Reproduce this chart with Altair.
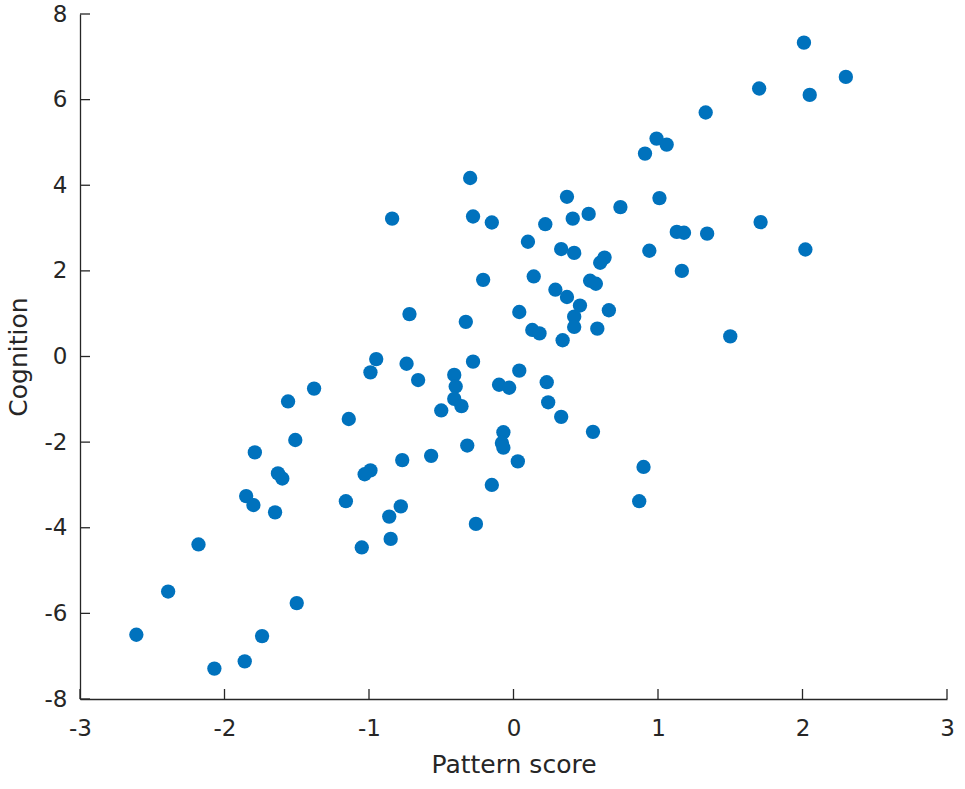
import altair as alt
import pandas as pd

pattern_score = [
    2.01, 2.30, 1.70, 2.05, 1.33, 0.99, 1.06, 0.91, -0.30, 0.37,
    1.01, 0.74, -0.84, -0.28, -0.15, 0.41, 0.52, 0.22, 1.71, 1.13,
    1.18, 1.34, 0.10, 0.33, 0.42, 0.63, 0.60, 0.94, 2.02, 1.165,
    -0.21, 0.14, 0.53, 0.57, 0.29, 0.37, 0.46, 0.66, 0.42, 0.42,
    0.58, 0.04, -0.72, -0.33, 0.13, 0.18, 0.34, 1.50, -0.95, -0.99,
    -0.74, -0.28, -0.66, -0.41, -0.40, 0.04, -0.10, -0.03, 0.23, -0.41,
    -0.36, -0.50, 0.24, 0.33, 0.55, -0.07, -0.08, -0.07, 0.03, -0.32,
    -0.57, -0.77, -0.99, -0.15, 0.90, 0.87, -0.78, -0.86, -0.26, -0.85,
    -1.38, -1.56, -1.14, -1.51, -1.79, -1.63, -1.60, -1.03, -1.85, -1.80,
    -1.65, -1.16, -2.18, -1.05, -2.39, -1.50, -2.61, -1.74, -1.86, -2.07,
]
cognition = [
    7.33, 6.53, 6.26, 6.11, 5.70, 5.09, 4.95, 4.74, 4.17, 3.73,
    3.70, 3.49, 3.22, 3.27, 3.13, 3.22, 3.33, 3.09, 3.14, 2.91,
    2.89, 2.87, 2.68, 2.51, 2.42, 2.31, 2.19, 2.47, 2.50, 2.00,
    1.79, 1.87, 1.77, 1.70, 1.56, 1.39, 1.19, 1.08, 0.93, 0.69,
    0.65, 1.04, 0.99, 0.81, 0.62, 0.54, 0.38, 0.47, -0.06, -0.37,
    -0.17, -0.12, -0.55, -0.43, -0.70, -0.33, -0.66, -0.73, -0.60, -0.99,
    -1.16, -1.26, -1.07, -1.41, -1.76, -1.77, -2.02, -2.13, -2.45, -2.08,
    -2.32, -2.42, -2.66, -3.00, -2.58, -3.38, -3.50, -3.74, -3.91, -4.26,
    -0.75, -1.05, -1.46, -1.95, -2.24, -2.73, -2.85, -2.75, -3.26, -3.47,
    -3.64, -3.38, -4.39, -4.46, -5.49, -5.76, -6.50, -6.53, -7.12, -7.29,
]
x_ticks = [-3, -2, -1, 0, 1, 2, 3]
y_ticks = [-8, -6, -4, -2, 0, 2, 4, 6, 8]

df = pd.DataFrame({"Pattern score": pattern_score, "Cognition": cognition})
xdf = pd.DataFrame({"Pattern score": x_ticks})
ydf = pd.DataFrame({"Cognition": y_ticks})

W, H = 867, 685
AX = "#262626"
FONT = "DejaVu Sans"
xs = alt.Scale(domain=[-3, 3], nice=False, zero=False)
ys = alt.Scale(domain=[-8, 8], nice=False, zero=False)
xaxis = alt.Axis(values=x_ticks, labelExpr="'' + datum.value", labelFlush=False,
                 labelPadding=18, titlePadding=12, title="Pattern score")
yaxis = alt.Axis(values=y_ticks, labelExpr="'' + datum.value", labelFlush=False,
                 labelPadding=13, titlePadding=13, title="Cognition")
X = alt.X("Pattern score:Q", scale=xs, axis=xaxis)
Y = alt.Y("Cognition:Q", scale=ys, axis=yaxis)

points = alt.Chart(df).mark_circle(size=205, color="#0072BD", opacity=1).encode(x=X, y=Y)

xt = alt.Chart(xdf).mark_rule(color=AX, strokeWidth=1.3).encode(
    x=X, y=alt.value(H), y2=alt.value(H - 10)
)
yt = alt.Chart(ydf).mark_rule(color=AX, strokeWidth=1.3).encode(
    y=Y, x=alt.value(0), x2=alt.value(10)
)

chart = alt.layer(points, xt, yt).properties(
    width=W, height=H,
    autosize=alt.AutoSizeParams(type="none"),
    padding={"left": 80, "top": 14, "right": 18, "bottom": 90},
).configure_axis(
    domainColor=AX, domainWidth=1.3, labelColor=AX, titleColor=AX,
    labelFont=FONT, titleFont=FONT,
    labelFontSize=23, titleFontSize=25, titleFontWeight="normal",
    grid=False, tickSize=0,
).configure_view(stroke=None)

chart.save("out.html", embed_options={"renderer": "svg", "actions": False})
